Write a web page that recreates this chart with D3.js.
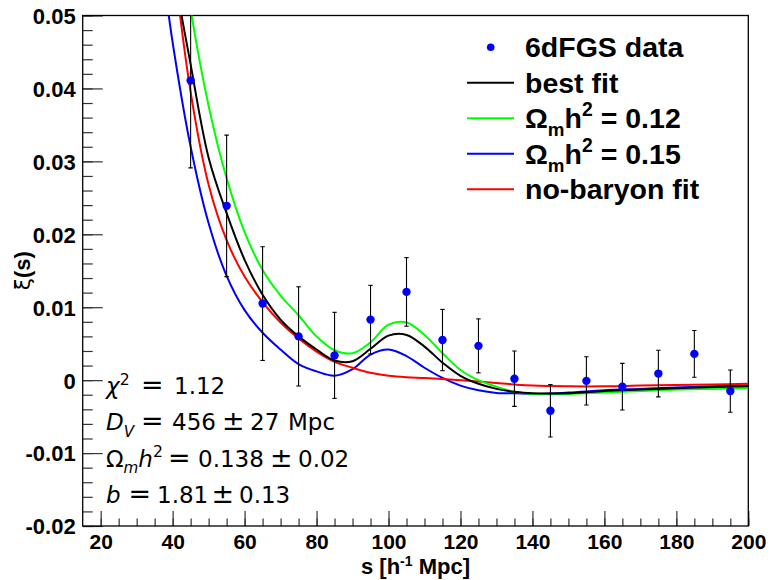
<!DOCTYPE html>
<html>
<head>
<meta charset="utf-8">
<script src="https://cdn.jsdelivr.net/npm/d3@7"></script>
<style>
  body { margin: 0; background: #fff; }
  svg { display: block; }
</style>
</head>
<body>
<script>
// 6dFGS correlation function measurements
var dataS   = [45, 55, 65, 75, 85, 95, 105, 115, 125, 135, 145, 155, 165, 175, 185, 195];
var dataXi  = [0.0411, 0.0239, 0.0105, 0.0060, 0.0034, 0.0083, 0.0121, 0.0055, 0.0047, 0.0002, -0.0042, -0.0001, -0.0009, 0.0009, 0.0036, -0.0015];
var dataErr = [0.0120, 0.0097, 0.0078, 0.0068, 0.0059, 0.0047, 0.0047, 0.0042, 0.0037, 0.0038, 0.0036, 0.0033, 0.0032, 0.0032, 0.0032, 0.0029];

// model curves, sampled at fitS
var fitS = [38, 40, 45, 50, 55, 60, 65, 70, 75, 80, 85, 90, 95, 100, 105, 110, 115, 120, 125, 130, 135, 140, 150, 160, 170, 180, 190, 200];
var bestFit = [0.0715, 0.0577, 0.0433, 0.0305, 0.0229, 0.0165, 0.0117, 0.0083, 0.0060, 0.0042, 0.0027, 0.0026, 0.0043, 0.0061, 0.0062, 0.0046, 0.0024, 0.0006, -0.0005, -0.0012, -0.0016, -0.0018, -0.0018, -0.0015, -0.0013, -0.0011, -0.00095, -0.00085];
var fit012  = [0.0780, 0.0690, 0.0509, 0.0376, 0.0277, 0.0203, 0.0151, 0.0116, 0.0089, 0.0060, 0.0041, 0.0037, 0.0052, 0.0076, 0.0079, 0.0062, 0.0037, 0.0014, 0.0000, -0.0009, -0.0016, -0.0019, -0.0019, -0.0017, -0.0015, -0.0013, -0.0012, -0.0011];
var fit015  = [0.0535, 0.0463, 0.0320, 0.0215, 0.0143, 0.0096, 0.0065, 0.0042, 0.0022, 0.0012, 0.0006, 0.0015, 0.0035, 0.0042, 0.0033, 0.0017, 0.0003, -0.00075, -0.0014, -0.00175, -0.0018, -0.0019, -0.0017, -0.0014, -0.0012, -0.0010, -0.00085, -0.00075];
var noBaryon = [0.0686, 0.0586, 0.0395, 0.0268, 0.0192, 0.0142, 0.0107, 0.0079, 0.0057, 0.0039, 0.0025, 0.0017, 0.0010, 0.0006, 0.0004, 0.0003, 0.00016, 0.0000, -0.0002, -0.0004, -0.0006, -0.00075, -0.00085, -0.00085, -0.00075, -0.00066, -0.0006, -0.0005];

var curveValues = [bestFit, fit012, fit015, noBaryon];
var curveColors = ["#000000", "#00ff00", "#0000ff", "#ff0000"];

// axis ticks
var xMajor = [20, 40, 60, 80, 100, 120, 140, 160, 180, 200];
var xMinor = d3.range(20, 201, 5);
var yMajor = [-0.02, -0.01, 0, 0.01, 0.02, 0.03, 0.04, 0.05];
var yMinor = d3.range(-20, 51, 2).map(function(v) { return v / 1000; });

var width = 770, height = 580;
var margin = {top: 15.5, right: 21.7, bottom: 54, left: 82.7};
var font = "'Liberation Sans', Arial, Helvetica, sans-serif";

var x = d3.scaleLinear().domain([15, 200]).range([margin.left, width - margin.right]);
var y = d3.scaleLinear().domain([-0.02, 0.05]).range([height - margin.bottom, margin.top]);

var svg = d3.select("body").append("svg")
    .attr("width", width)
    .attr("height", height);

svg.append("clipPath")
    .attr("id", "plot-clip")
    .append("rect")
    .attr("x", x.range()[0])
    .attr("y", y.range()[1])
    .attr("width", x.range()[1] - x.range()[0])
    .attr("height", y.range()[0] - y.range()[1]);

function fmtY(d) {
    if (d === 0) return "0";
    return (d < 0 ? "-" : "") + Math.abs(d).toFixed(2);
}

// Y axis: minor then major ticks, drawn inside the frame
svg.append("g")
    .attr("transform", "translate(" + margin.left + ",0)")
    .call(d3.axisLeft(y).tickValues(yMinor).tickSize(-10).tickSizeOuter(0).tickFormat(""))
    .call(function(g) { g.select(".domain").remove(); });

var yAxis = svg.append("g")
    .attr("transform", "translate(" + margin.left + ",0)")
    .call(d3.axisLeft(y).tickValues(yMajor).tickSize(-20).tickSizeOuter(0).tickPadding(7).tickFormat(fmtY));
yAxis.select(".domain").remove();
yAxis.selectAll("text")
    .attr("font-family", font)
    .attr("font-weight", "bold")
    .attr("font-size", 22)
    .attr("dy", "0.36em")
    .attr("fill", "#000");

// X axis
svg.append("g")
    .attr("transform", "translate(0," + (height - margin.bottom) + ")")
    .call(d3.axisBottom(x).tickValues(xMinor).tickSize(-7.5).tickSizeOuter(0).tickFormat(""))
    .call(function(g) { g.select(".domain").remove(); });

var xAxis = svg.append("g")
    .attr("transform", "translate(0," + (height - margin.bottom) + ")")
    .call(d3.axisBottom(x).tickValues(xMajor).tickSize(-15).tickSizeOuter(0).tickPadding(8.5));
xAxis.select(".domain").remove();
xAxis.selectAll("text")
    .attr("font-family", font)
    .attr("font-weight", "bold")
    .attr("font-size", 21)
    .attr("fill", "#000");

svg.selectAll(".tick line").attr("stroke", "#333").attr("stroke-width", 1.2);

// frame
svg.append("rect")
    .attr("x", x.range()[0])
    .attr("y", y.range()[1])
    .attr("width", x.range()[1] - x.range()[0])
    .attr("height", y.range()[0] - y.range()[1])
    .attr("fill", "none")
    .attr("stroke", "#000")
    .attr("stroke-width", 1.3);

// axis titles
var xTitle = svg.append("text")
    .attr("x", (x.range()[0] + x.range()[1]) / 2)
    .attr("y", 574)
    .attr("text-anchor", "middle")
    .attr("font-family", font)
    .attr("font-weight", "bold")
    .attr("font-size", 22);
xTitle.append("tspan").text("s [h");
xTitle.append("tspan").attr("font-size", 14).attr("dy", -8).text("-1");
xTitle.append("tspan").attr("dy", 8).text(" Mpc]");

var yTitle = svg.append("text")
    .attr("transform", "translate(30," + ((y.range()[0] + y.range()[1]) / 2) + ") rotate(-90)")
    .attr("text-anchor", "middle")
    .attr("font-family", font)
    .attr("font-weight", "bold")
    .attr("font-size", 22);
yTitle.append("tspan").attr("font-weight", "normal").attr("font-family", "'DejaVu Sans', sans-serif").text("ξ");
yTitle.append("tspan").text("(s)");

// plot contents
var plot = svg.append("g").attr("clip-path", "url(#plot-clip)");

var line = d3.line()
    .x(function(d) { return x(d[0]); })
    .y(function(d) { return y(d[1]); })
    .curve(d3.curveCatmullRom.alpha(0.5));

// draw order: blue, red, green, black on top
[2, 3, 1, 0].forEach(function(i) {
    plot.append("path")
        .datum(fitS.map(function(s, j) { return [s, curveValues[i][j]]; }))
        .attr("d", line)
        .attr("fill", "none")
        .attr("stroke", curveColors[i])
        .attr("stroke-width", 2);
});

var points = dataS.map(function(s, i) { return {s: s, v: dataXi[i], e: dataErr[i]}; });

var bars = plot.append("g")
    .attr("stroke", "#000")
    .attr("stroke-width", 1.1)
    .selectAll("g")
    .data(points)
    .enter()
    .append("g");

bars.append("line")
    .attr("x1", function(d) { return x(d.s); })
    .attr("x2", function(d) { return x(d.s); })
    .attr("y1", function(d) { return y(d.v - d.e); })
    .attr("y2", function(d) { return y(d.v + d.e); });

bars.append("line")
    .attr("x1", function(d) { return x(d.s) - 2.2; })
    .attr("x2", function(d) { return x(d.s) + 2.2; })
    .attr("y1", function(d) { return y(d.v + d.e); })
    .attr("y2", function(d) { return y(d.v + d.e); });

bars.append("line")
    .attr("x1", function(d) { return x(d.s) - 2.2; })
    .attr("x2", function(d) { return x(d.s) + 2.2; })
    .attr("y1", function(d) { return y(d.v - d.e); })
    .attr("y2", function(d) { return y(d.v - d.e); });

plot.append("g")
    .selectAll("circle")
    .data(points)
    .enter()
    .append("circle")
    .attr("cx", function(d) { return x(d.s); })
    .attr("cy", function(d) { return y(d.v); })
    .attr("r", 4.2)
    .attr("fill", "#0000ff");

// rich text helper: parts are [text, kind, x]; kind is "sub", "itsub", "sup", "it", "op" or ""
function rich(textSel, parts, size) {
    var shift = 0;
    parts.forEach(function(p) {
        var t = textSel.append("tspan").text(p[0]);
        var target = 0;
        if (p[1] === "sub" || p[1] === "itsub") { target = size * 0.28; t.attr("font-size", size * 0.66); }
        if (p[1] === "sup") { target = -size * 0.42; t.attr("font-size", size * 0.68); }
        if (p[1] === "it" || p[1] === "itsub") t.attr("font-style", "italic");
        if (p[1] === "op") t.attr("font-size", size * 1.17);
        if (target !== shift) { t.attr("dy", target - shift); shift = target; }
        if (p[2] !== undefined) t.attr("x", p[2]);
    });
}

// legend
var legendItems = [
    {kind: "dot", color: "#0000ff", parts: [["6dFGS data", ""]]},
    {kind: "line", color: "#000000", parts: [["best fit", ""]]},
    {kind: "line", color: "#00ff00", parts: [["Ω", ""], ["m", "sub"], ["h", ""], ["2", "sup"], [" = 0.12", ""]]},
    {kind: "line", color: "#0000ff", parts: [["Ω", ""], ["m", "sub"], ["h", ""], ["2", "sup"], [" = 0.15", ""]]},
    {kind: "line", color: "#ff0000", parts: [["no-baryon fit", ""]]}
];

var legend = svg.append("g");
legendItems.forEach(function(item, i) {
    var cy = 47.3 + i * 35.5;
    if (item.kind === "dot") {
        legend.append("circle").attr("cx", 490.7).attr("cy", cy).attr("r", 3.8).attr("fill", item.color);
    } else {
        legend.append("line")
            .attr("x1", 467).attr("x2", 514)
            .attr("y1", cy).attr("y2", cy)
            .attr("stroke", item.color)
            .attr("stroke-width", 2);
    }
    var t = legend.append("text")
        .attr("x", 525)
        .attr("y", cy + 9.8)
        .attr("font-family", font)
        .attr("font-weight", "bold")
        .attr("font-size", 28.5);
    rich(t, item.parts, 28.5);
});

// fit results, pieces placed at fixed x in pixels
var notes = [
    [["χ", "it"], ["2", "sup"], ["=", "op", 141], ["1.12", "", 174]],
    [["D", "it"], ["V", "itsub"], ["=", "op", 141], ["456", "", 172], ["±", "op", 222], ["27", "", 250], ["Mpc", "", 288]],
    [["Ω", ""], ["m", "itsub"], ["h", "it"], ["2", "sup"], ["=", "op", 168], ["0.138", "", 198], ["±", "op", 270], ["0.02", "", 298]],
    [["b", "it"], ["=", "op", 128.5], ["1.81", "", 157], ["±", "op", 211.5], ["0.13", "", 239]]
];

notes.forEach(function(parts, i) {
    var t = svg.append("text")
        .attr("x", 106)
        .attr("y", 394.3 + i * 36.1)
        .attr("font-family", "'DejaVu Sans', sans-serif")
        .attr("font-size", 23)
        .attr("fill", "#000");
    rich(t, parts, 23);
});
</script>
</body>
</html>
